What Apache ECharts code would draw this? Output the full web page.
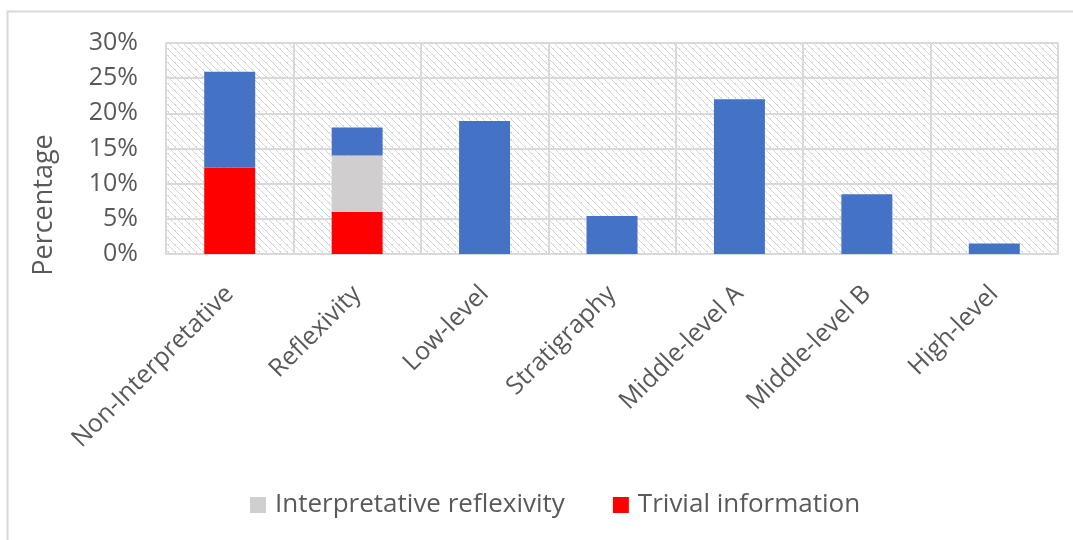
<!DOCTYPE html>
<html>
<head>
<meta charset="utf-8">
<script src="https://cdn.jsdelivr.net/npm/echarts@6/dist/echarts.min.js"></script>
<style>
  html, body { margin: 0; padding: 0; background: #fff; }
  #chart { width: 1073px; height: 540px; }
</style>
</head>
<body>
<div id="chart"></div>
<script>
// Categories of reflexive / interpretive statements
const categories = ['Non-Interpretative', 'Reflexivity', 'Low-level', 'Stratigraphy', 'Middle-level A', 'Middle-level B', 'High-level'];
// Share of statements (%), stacked bottom to top
const trivialInformation = [12.3, 6.0, 0, 0, 0, 0, 0];
const interpretativeReflexivity = [0, 8.0, 0, 0, 0, 0, 0];
const interpretationLevel = [13.6, 4.0, 18.9, 5.4, 22.0, 8.5, 1.5];
// Value axis ticks
const yMin = 0, yMax = 30, yStep = 5;

const textColor = '#595959';
const lineColor = '#d9d9d9';
const fontFamily = '"Open Sans", "Noto Sans", sans-serif';

// Light diagonal hatch used as the plot background
function hatchTile() {
  const size = 7;
  const c = document.createElement('canvas');
  c.width = size; c.height = size;
  const ctx = c.getContext('2d');
  ctx.fillStyle = '#ffffff';
  ctx.fillRect(0, 0, size, size);
  ctx.fillStyle = '#d6d6d6';
  for (let y = 0; y < size; y++) {
    for (let x = 0; x < size; x++) {
      const d = ((x - y) % size + size) % size;
      if (d === 0 || (d === 1 && (x + y) % 2 === 0)) ctx.fillRect(x, y, 1, 1);
    }
  }
  return c;
}

const chart = echarts.init(document.getElementById('chart'), null, { renderer: 'canvas' });

chart.setOption({
  backgroundColor: '#ffffff',
  animation: false,
  textStyle: { fontFamily: fontFamily },
  grid: {
    left: 166, right: 15, top: 43, bottom: 286,
    show: true,
    backgroundColor: { image: hatchTile(), repeat: 'repeat' },
    borderColor: lineColor,
    borderWidth: 1.5
  },
  legend: {
    data: ['Interpretative reflexivity', 'Trivial information'],
    left: 250, top: 492,
    padding: 0,
    icon: 'rect',
    itemWidth: 16, itemHeight: 16,
    itemGap: 48,
    textStyle: { fontSize: 26, color: textColor, fontFamily: fontFamily, padding: [0, 0, 0, 4] }
  },
  xAxis: {
    type: 'category',
    data: categories,
    axisLine: { show: true, lineStyle: { color: lineColor, width: 1.5 } },
    axisTick: { show: false },
    splitLine: { show: true, interval: 0, lineStyle: { color: lineColor, width: 2 } },
    axisLabel: {
      interval: 0, rotate: 45, margin: 36,
      fontSize: 25, color: textColor, fontFamily: fontFamily
    }
  },
  yAxis: {
    type: 'value',
    min: yMin, max: yMax, interval: yStep,
    axisLine: { show: false },
    axisTick: { show: false },
    splitLine: { show: true, lineStyle: { color: lineColor, width: 2 } },
    axisLabel: {
      formatter: '{value}%', margin: 28,
      fontSize: 25, color: textColor, fontFamily: fontFamily
    }
  },
  graphic: [
    {
      type: 'polyline',
      shape: { points: [[7.5, 540], [7.5, 11.5], [1073, 11.5]] },
      style: { stroke: lineColor, lineWidth: 2, fill: null },
      silent: true
    },
    {
      type: 'text',
      x: 44, y: 205,
      rotation: Math.PI / 2,
      style: {
        text: 'Percentage',
        fontSize: 27, fill: textColor, fontFamily: fontFamily,
        align: 'center', verticalAlign: 'middle'
      },
      silent: true
    }
  ],
  series: [
    {
      name: 'Trivial information', type: 'bar', stack: 'total',
      data: trivialInformation, barWidth: '40%',
      itemStyle: { color: '#ff0000' }
    },
    {
      name: 'Interpretative reflexivity', type: 'bar', stack: 'total',
      data: interpretativeReflexivity, barWidth: '40%',
      itemStyle: { color: '#d0cece' }
    },
    {
      name: 'Interpretation level', type: 'bar', stack: 'total',
      data: interpretationLevel, barWidth: '40%',
      itemStyle: { color: '#4472c4' }
    }
  ]
});
</script>
</body>
</html>
